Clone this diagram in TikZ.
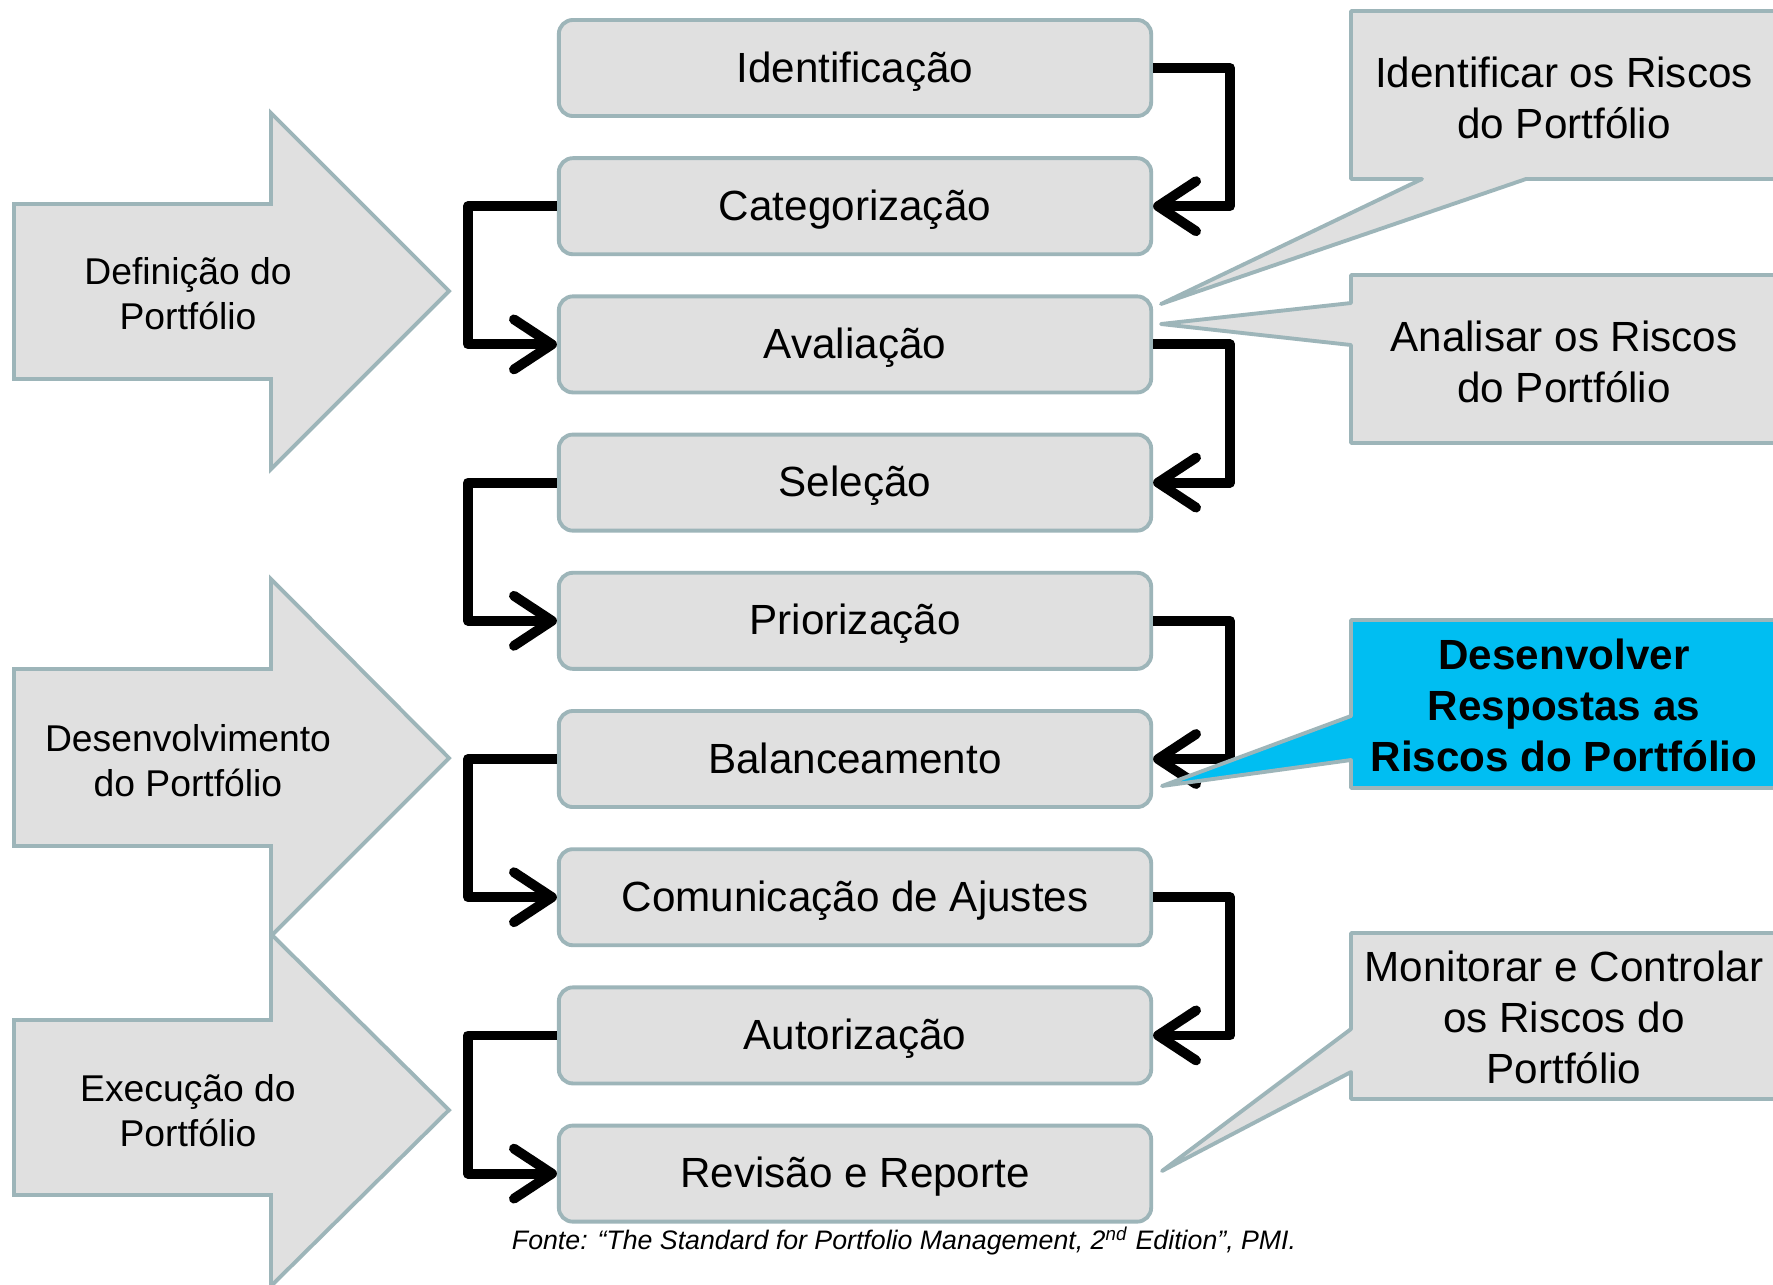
\documentclass[tikz,border=0pt]{standalone}
\usepackage{fontspec}
\setmainfont{Liberation Sans}
\usetikzlibrary{arrows.meta}
\definecolor{boxfill}{HTML}{E0E0E0}
\definecolor{edge}{HTML}{9DB5B9}
\definecolor{hilite}{HTML}{00BEF2}
\tikzset{
  stepbox/.style={draw=edge, fill=boxfill, line width=1.1pt, rounded corners=0.14cm,
    minimum width=5.92cm, minimum height=0.96cm, inner sep=0pt,
    text height=0.3cm, text depth=0.02cm,
    font=\fontsize{12}{14}\selectfont},
  conn/.style={line width=2.8pt, line join=round,
    -{Straight Barb[length=0.38cm,width=0.5cm,round]}},
  phase/.style={draw=edge, fill=boxfill, line width=1.1pt},
  phasetext/.style={align=center, font=\fontsize{10.6}{12.8}\selectfont},
  callout/.style={draw=edge, fill=boxfill, line width=1.1pt, line join=round},
  callouttext/.style={align=center, font=\fontsize{12}{14.5}\selectfont},
}
\begin{document}
\begin{tikzpicture}[x=0.01cm, y=-0.01cm]
\fill[white] (0,0) rectangle (1773,1284);
\useasboundingbox (0,0) rectangle (1773,1284);

% phase arrows on the left
\draw[phase] (14,204) -- (271,204) -- (271,113) -- (449,291) -- (271,469) -- (271,379) -- (14,379) -- cycle;
\draw[phase] (14,669) -- (271,669) -- (271,579) -- (449,758) -- (271,936) -- (271,846) -- (14,846) -- cycle;
\draw[phase] (14,1020) -- (271,1020) -- (271,934) -- (449,1110) -- (271,1286) -- (271,1195) -- (14,1195) -- cycle;
\node[phasetext] (p1) at (188,294) {Definição do\\Portfólio};
\node[phasetext] (p2) at (188,761) {Desenvolvimento\\do Portfólio};
\node[phasetext] (p3) at (188,1111) {Execução do\\Portfólio};

% process steps
\node[stepbox] (b1) at (855,68.0)   {Identificação};
\node[stepbox] (b2) at (855,206.2)  {Categorização};
\node[stepbox] (b3) at (855,344.4)  {Avaliação};
\node[stepbox] (b4) at (855,482.6)  {Seleção};
\node[stepbox] (b5) at (855,620.8)  {Priorização};
\node[stepbox] (b6) at (855,759.0)  {Balanceamento};
\node[stepbox] (b7) at (855,897.2)  {Comunicação de Ajustes};
\node[stepbox] (b8) at (855,1035.4) {Autorização};
\node[stepbox] (b9) at (855,1173.6) {Revisão e Reporte};

% flow between steps, alternating sides
\draw[conn] (b1.east) -- ++(77,0) |- (b2.east);
\draw[conn] (b2.west) -- ++(-89,0) |- (b3.west);
\draw[conn] (b3.east) -- ++(77,0) |- (b4.east);
\draw[conn] (b4.west) -- ++(-89,0) |- (b5.west);
\draw[conn] (b5.east) -- ++(77,0) |- (b6.east);
\draw[conn] (b6.west) -- ++(-89,0) |- (b7.west);
\draw[conn] (b7.east) -- ++(77,0) |- (b8.east);
\draw[conn] (b8.west) -- ++(-89,0) |- (b9.west);

% risk callouts
\draw[callout] (1351,11) -- (1790,11) -- (1790,179) -- (1526,179) -- (1161,304) -- (1422,179) -- (1351,179) -- cycle;
\node[callouttext] (c1) at (1564,98) {Identificar os Riscos\\do Portfólio};

\draw[callout] (1351,275) -- (1790,275) -- (1790,443) -- (1351,443) -- (1351,345) -- (1161,324) -- (1351,303) -- cycle;
\node[callouttext] (c2) at (1564,362) {Analisar os Riscos\\do Portfólio};

\draw[callout, fill=hilite] (1351,620) -- (1790,620) -- (1790,788) -- (1351,788) -- (1351,760) -- (1162,786) -- (1351,716) -- cycle;
\node[callouttext, font=\fontsize{12}{14.5}\selectfont\bfseries] (c3) at (1564,705) {Desenvolver\\Respostas as\\Riscos do Portfólio};

\draw[callout] (1351,933) -- (1790,933) -- (1790,1099) -- (1351,1099) -- (1351,1072) -- (1162,1171) -- (1351,1029) -- cycle;
\node[callouttext] (c4) at (1564,1017) {Monitorar e Controlar\\os Riscos do\\Portfólio};

% source line
\node[font=\fontsize{7.6}{9}\selectfont\itshape] (src) at (904,1241)
  {Fonte: “The Standard for Portfolio Management, 2\textsuperscript{nd} Edition”, PMI.};
\end{tikzpicture}
\end{document}
